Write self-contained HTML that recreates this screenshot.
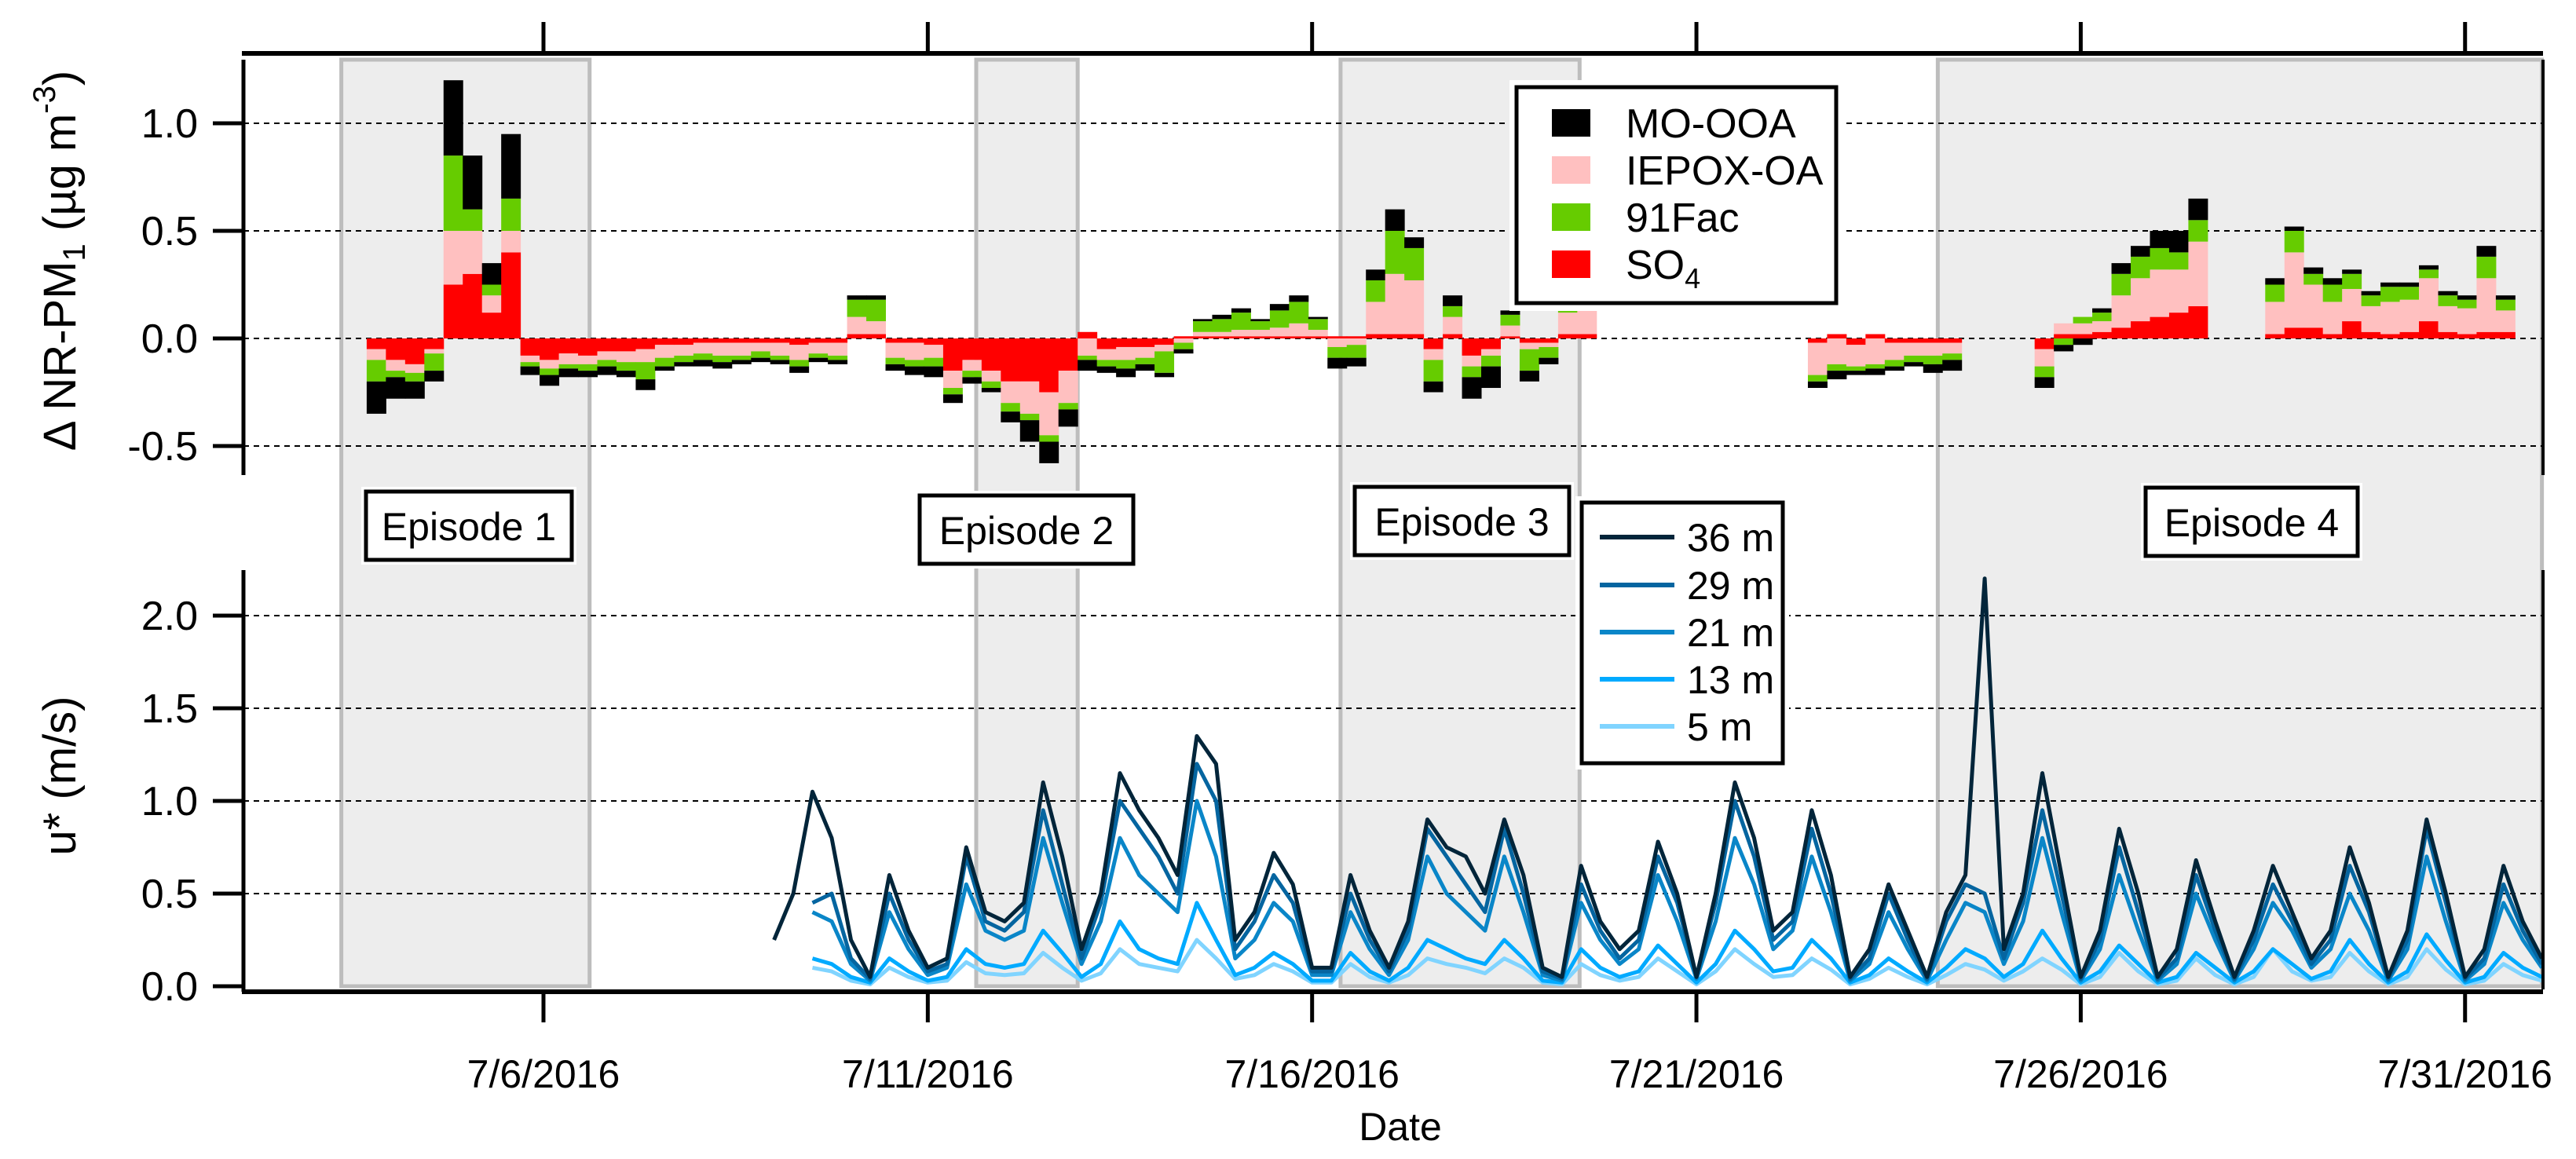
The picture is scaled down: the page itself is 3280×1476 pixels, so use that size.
<!DOCTYPE html>
<html><head><meta charset="utf-8"><style>
html,body{margin:0;padding:0;background:#fff;}
svg text{font-family:"Liberation Sans",Arial,sans-serif;fill:#000;}
</style></head><body>
<svg id="chart" xmlns="http://www.w3.org/2000/svg" width="3280" height="1471" viewBox="0 0 3280 1471">
<g id="shades"></g>
<g id="grid"></g>
<g id="bars"></g>
<g id="lines"></g>
<g id="axes"></g>
<g id="labels"></g>
</svg>
<script>
// ---- data ----
const xTickDays=[6,11,16,21,26,31];
const xTickLabels=["7/6/2016","7/11/2016","7/16/2016","7/21/2016","7/26/2016","7/31/2016"];
const topTicks=[1.0,0.5,0.0,-0.5];
const topTickLabels=["1.0","0.5","0.0","-0.5"];
const botTicks=[2.0,1.5,1.0,0.5,0.0];
const botTickLabels=["2.0","1.5","1.0","0.5","0.0"];
const episodeStart=[3.37,11.63,16.37,24.14];
const episodeEnd=[6.6,12.95,19.48,32.0];
const episodeNames=["Episode 1","Episode 2","Episode 3","Episode 4"];
const barSegStart=[3.70,22.45,25.4,28.4];
const barSegCount=[64,8,9,13];
const barStep=0.25;
const so4=[-0.05,-0.1,-0.12,-0.05,0.25,0.3,0.12,0.4,-0.08,-0.1,-0.07,-0.08,-0.06,-0.06,-0.05,-0.03,-0.03,-0.02,-0.02,-0.02,-0.02,-0.02,-0.03,-0.02,-0.02,0.02,0.02,-0.02,-0.02,-0.03,-0.15,-0.1,-0.15,-0.2,-0.2,-0.25,-0.15,0.03,-0.05,-0.04,-0.04,-0.03,0.01,0.01,0.01,0.01,0.01,0.01,0.01,0.01,0.01,0.01,0.02,0.02,0.02,-0.05,0.02,-0.08,-0.05,0.01,-0.02,-0.02,0.02,0.02,
 -0.02,0.02,-0.03,0.02,-0.02,-0.02,-0.02,-0.02,
 -0.05,0.02,0.02,0.03,0.05,0.08,0.1,0.12,0.15,
 0.02,0.05,0.05,0.02,0.08,0.03,0.02,0.03,0.08,0.03,0.02,0.03,0.03];
const iepox=[-0.05,-0.05,-0.04,-0.02,0.25,0.2,0.08,0.1,-0.03,-0.04,-0.05,-0.04,-0.04,-0.05,-0.06,-0.06,-0.05,-0.05,-0.06,-0.06,-0.04,-0.06,-0.07,-0.05,-0.06,0.08,0.06,-0.07,-0.08,-0.06,-0.08,-0.05,-0.05,-0.1,-0.15,-0.2,-0.15,-0.08,-0.05,-0.06,-0.05,-0.03,-0.02,0.02,0.02,0.03,0.03,0.04,0.06,0.03,-0.04,-0.03,0.15,0.28,0.25,-0.05,0.08,-0.05,-0.03,0.05,-0.03,-0.02,0.1,0.15,
 -0.15,-0.12,-0.1,-0.12,-0.08,-0.06,-0.06,-0.05,
 -0.08,0.05,0.05,0.05,0.15,0.2,0.22,0.2,0.3,
 0.15,0.35,0.2,0.15,0.15,0.12,0.15,0.15,0.2,0.12,0.12,0.25,0.1];
const fac91=[-0.1,-0.03,-0.04,-0.08,0.35,0.1,0.05,0.15,-0.02,-0.03,-0.02,-0.03,-0.03,-0.04,-0.08,-0.04,-0.03,-0.03,-0.03,-0.02,-0.03,-0.02,-0.03,-0.02,-0.02,0.08,0.1,-0.03,-0.03,-0.04,-0.03,-0.03,-0.03,-0.04,-0.03,-0.03,-0.03,-0.02,-0.03,-0.04,-0.03,-0.1,-0.03,0.05,0.06,0.08,0.04,0.08,0.1,0.05,-0.05,-0.06,0.1,0.2,0.15,-0.1,0.05,-0.05,-0.05,0.05,-0.1,-0.05,0.04,0.03,
 -0.03,-0.03,-0.02,-0.02,-0.03,-0.03,-0.04,-0.03,
 -0.05,-0.03,0.03,0.04,0.1,0.1,0.1,0.08,0.1,
 0.08,0.1,0.05,0.08,0.07,0.05,0.07,0.06,0.04,0.05,0.04,0.1,0.05];
const moooa=[-0.15,-0.1,-0.08,-0.05,0.35,0.25,0.1,0.3,-0.04,-0.05,-0.04,-0.03,-0.04,-0.03,-0.05,-0.02,-0.02,-0.03,-0.03,-0.02,-0.02,-0.02,-0.03,-0.02,-0.02,0.02,0.02,-0.03,-0.04,-0.05,-0.04,-0.03,-0.02,-0.05,-0.1,-0.1,-0.08,-0.05,-0.03,-0.04,-0.03,-0.02,-0.02,0.01,0.02,0.02,0.01,0.03,0.03,0.01,-0.05,-0.04,0.05,0.1,0.05,-0.05,0.05,-0.1,-0.1,0.02,-0.05,-0.03,0.02,0.01,
 -0.03,-0.04,-0.02,-0.03,-0.02,-0.02,-0.04,-0.05,
 -0.05,-0.03,-0.03,0.02,0.05,0.05,0.08,0.1,0.1,
 0.03,0.02,0.03,0.03,0.02,0.02,0.02,0.02,0.02,0.02,0.02,0.05,0.02];
const uStart=9.0, uStep=0.25;
const u36=[0.25,0.5,1.05,0.8, 0.25,0.05,0.6,0.3, 0.1,0.15,0.75,0.4, 0.35,0.45,1.1,0.7, 0.2,0.5,1.15,0.95, 0.8,0.6,1.35,1.2, 0.25,0.4,0.72,0.55, 0.1,0.1,0.6,0.3, 0.1,0.35,0.9,0.75, 0.7,0.5,0.9,0.6, 0.1,0.05,0.65,0.35, 0.2,0.3,0.78,0.5, 0.05,0.5,1.1,0.8, 0.3,0.4,0.95,0.6, 0.05,0.2,0.55,0.3, 0.05,0.4,0.6,2.2, 0.2,0.5,1.15,0.6, 0.05,0.3,0.85,0.5, 0.05,0.2,0.68,0.35, 0.05,0.3,0.65,0.4, 0.15,0.3,0.75,0.45, 0.05,0.3,0.9,0.5, 0.05,0.2,0.65,0.35, 0.15];
const u29=[null,null,0.45,0.5, 0.15,0.04,0.5,0.25, 0.08,0.12,0.7,0.35, 0.3,0.4,0.95,0.55, 0.15,0.45,1.0,0.85, 0.7,0.5,1.2,1.0, 0.2,0.35,0.6,0.45, 0.08,0.08,0.5,0.25, 0.08,0.3,0.85,0.7, 0.55,0.4,0.85,0.5, 0.08,0.04,0.55,0.3, 0.15,0.25,0.7,0.45, 0.05,0.45,1.0,0.7, 0.25,0.35,0.85,0.5, 0.04,0.15,0.5,0.25, 0.04,0.35,0.55,0.5, 0.15,0.45,0.95,0.5, 0.04,0.25,0.75,0.4, 0.04,0.15,0.6,0.3, 0.04,0.25,0.55,0.35, 0.12,0.25,0.65,0.4, 0.04,0.25,0.85,0.45, 0.04,0.15,0.55,0.3, 0.12];
const u21=[null,null,0.4,0.35, 0.12,0.03,0.4,0.2, 0.06,0.1,0.55,0.3, 0.25,0.3,0.8,0.45, 0.12,0.35,0.8,0.6, 0.5,0.4,1.0,0.7, 0.15,0.25,0.45,0.35, 0.06,0.06,0.4,0.2, 0.06,0.25,0.7,0.5, 0.4,0.3,0.7,0.4, 0.06,0.03,0.45,0.25, 0.12,0.2,0.6,0.35, 0.04,0.35,0.8,0.55, 0.2,0.3,0.7,0.4, 0.03,0.12,0.4,0.2, 0.03,0.25,0.45,0.4, 0.12,0.35,0.8,0.4, 0.03,0.2,0.6,0.3, 0.03,0.12,0.5,0.25, 0.03,0.2,0.45,0.3, 0.1,0.2,0.5,0.3, 0.03,0.2,0.7,0.35, 0.03,0.12,0.45,0.25, 0.1];
const u13=[null,null,0.15,0.12, 0.05,0.02,0.15,0.08, 0.03,0.05,0.2,0.12, 0.1,0.12,0.3,0.18, 0.05,0.12,0.35,0.2, 0.15,0.12,0.45,0.25, 0.06,0.1,0.18,0.12, 0.03,0.03,0.18,0.08, 0.03,0.1,0.25,0.2, 0.15,0.12,0.25,0.15, 0.03,0.02,0.2,0.1, 0.05,0.08,0.22,0.12, 0.02,0.12,0.3,0.2, 0.08,0.1,0.25,0.15, 0.02,0.06,0.15,0.08, 0.02,0.1,0.2,0.15, 0.05,0.12,0.3,0.15, 0.02,0.08,0.22,0.12, 0.02,0.05,0.18,0.1, 0.02,0.08,0.2,0.12, 0.04,0.08,0.25,0.12, 0.02,0.08,0.28,0.14, 0.02,0.05,0.18,0.1, 0.05];
const u5=[null,null,0.1,0.08, 0.03,0.01,0.1,0.05, 0.02,0.03,0.13,0.07, 0.06,0.07,0.18,0.1, 0.03,0.07,0.2,0.12, 0.1,0.08,0.25,0.15, 0.04,0.06,0.12,0.08, 0.02,0.02,0.12,0.05, 0.02,0.06,0.15,0.12, 0.1,0.07,0.15,0.1, 0.02,0.01,0.12,0.06, 0.03,0.05,0.15,0.08, 0.01,0.08,0.2,0.12, 0.05,0.06,0.15,0.09, 0.01,0.04,0.1,0.05, 0.01,0.06,0.12,0.09, 0.03,0.08,0.15,0.09, 0.01,0.05,0.18,0.08, 0.01,0.03,0.15,0.06, 0.01,0.05,0.2,0.08, 0.03,0.05,0.18,0.08, 0.01,0.05,0.2,0.09, 0.01,0.03,0.12,0.06, 0.03];

// ---- scales ----
const X0=310,X1=3238;
function xS(d){return 692+(d-6)*97.87;}
function yT(v){return 431-v*274;}
function yB(v){return 1256-v*236;}
const NS="http://www.w3.org/2000/svg";
function mk(tag,attrs,parent){const e=document.createElementNS(NS,tag);for(const k in attrs)e.setAttribute(k,attrs[k]);parent.appendChild(e);return e;}
const gS=document.getElementById('shades'),gG=document.getElementById('grid'),gBar=document.getElementById('bars'),gL=document.getElementById('lines'),gA=document.getElementById('axes'),gLab=document.getElementById('labels');

for(let i=0;i<episodeStart.length;i++){
  const x1=xS(episodeStart[i]),x2=Math.min(xS(episodeEnd[i]),X1);
  const r=mk('rect',{x:x1,y:76,width:x2-x1,height:1256-76,fill:'#ededed',stroke:'#bdbdbd','stroke-width':5},gS);
  
  
}
topTicks.forEach(v=>{const l=mk('line',{x1:X0,x2:X1,y1:yT(v),y2:yT(v),stroke:'#000','stroke-width':2,'stroke-dasharray':'7,6'},gG);
  
  });
botTicks.forEach(v=>{if(v===0)return;const l=mk('line',{x1:X0,x2:X1,y1:yB(v),y2:yB(v),stroke:'#000','stroke-width':2,'stroke-dasharray':'7,6'},gG);
  
  });

const comps=[so4,iepox,fac91,moooa];
const compColors=['#ff0000','#ffc0c0','#66cc00','#000000'];
const compNames=['so4','iepox-oa','91fac','mo-ooa'];
const barTimes=[];
for(let s=0;s<barSegStart.length;s++)for(let k=0;k<barSegCount[s];k++)barTimes.push(barSegStart[s]+k*barStep);
for(let i=0;i<barTimes.length;i++){
  let pos=0,neg=0;
  const xa=xS(barTimes[i]),xb=xS(barTimes[i]+barStep);
  for(let c=0;c<4;c++){
    const v=comps[c][i];if(v==null)continue;
    let a,b;
    if(v>=0){a=pos;b=pos+v;pos=b;}else{a=neg;b=neg+v;neg=b;}
    const y1=Math.min(yT(a),yT(b)),h=Math.abs(yT(a)-yT(b));
    const r=mk('rect',{x:xa,y:y1,width:xb-xa+0.5,height:h,fill:compColors[c]},gBar);
    
    
  }
}
const useries=[u5,u13,u21,u29,u36];
const ucolors=['#80d4ff','#00aaff','#0a86c8','#0565a0','#02253a'];
const unames=['5m','13m','21m','29m','36m'];
useries.forEach((s,j)=>{
  let d='';let pen=false;
  s.forEach((v,i)=>{if(v==null){pen=false;return;}const x=xS(uStart+i*uStep),y=yB(v);d+=(pen?'L':'M')+x.toFixed(1)+','+y.toFixed(1);pen=true;});
  const p=mk('path',{d:d,fill:'none',stroke:ucolors[j],'stroke-width':5,'stroke-linejoin':'round'},gL);
  
  
});

function line(x1,y1,x2,y2,w,name){const l=mk('line',{x1:x1,y1:y1,x2:x2,y2:y2,stroke:'#000','stroke-width':w},gA);
  
  }
line(X0,76,X0,605,5,'top-y-axis');
line(X0-2,68,X1,68,6,'top-x-axis');
line(X1,76,X1,605,4,'top-right-axis');
line(X0,726,X0,1263,5,'bottom-y-axis');
line(X0-2,1263,X1,1263,6,'bottom-x-axis');
line(X1,726,X1,1260,4,'bottom-right-axis');
xTickDays.forEach((d,i)=>{
  line(xS(d),28,xS(d),68,5,'top-x-tick');
  line(xS(d),1263,xS(d),1302,5,'bottom-x-tick');
  const t=mk('text',{x:xS(d),y:1385,'font-size':50,'text-anchor':'middle'},gLab);t.textContent=xTickLabels[i];
  
  
});
topTicks.forEach((v,i)=>{line(271,yT(v),X0,yT(v),5,'top-y-tick');
  const t=mk('text',{x:252,y:yT(v)+18,'font-size':52,'text-anchor':'end'},gLab);t.textContent=topTickLabels[i];
  
  });
botTicks.forEach((v,i)=>{line(271,yB(v),X0,yB(v),5,'bottom-y-tick');
  const t=mk('text',{x:252,y:yB(v)+18,'font-size':52,'text-anchor':'end'},gLab);t.textContent=botTickLabels[i];
  
  });

const epBoxX=[466,1171,1725,2732],epBoxY=[626,631,620,621],epBoxW=[262,272,273,270];
episodeNames.forEach((n,i)=>{
  mk('rect',{x:epBoxX[i]-6,y:epBoxY[i]-6,width:epBoxW[i]+12,height:99,fill:'#fff'},gLab);
  const r=mk('rect',{x:epBoxX[i],y:epBoxY[i],width:epBoxW[i],height:87,fill:'#fff',stroke:'#000','stroke-width':5},gLab);
  
  
  const t=mk('text',{x:epBoxX[i]+epBoxW[i]/2,y:epBoxY[i]+62,'font-size':50,'text-anchor':'middle'},gLab);t.textContent=n;
  
  
});
</script>
<svg style="position:absolute;left:0;top:0" width="3280" height="1471">
  <g>
    <rect x="1922" y="102" width="426" height="294" fill="#fff"/>
    <rect x="1931" y="111" width="407" height="275" fill="#fff" stroke="#000" stroke-width="5"/>
    <rect x="1976" y="139" width="49" height="35" fill="#000"/>
    <rect x="1976" y="199" width="49" height="35" fill="#ffc0c0"/>
    <rect x="1976" y="259" width="49" height="35" fill="#66cc00"/>
    <rect x="1976" y="319" width="49" height="35" fill="#ff0000"/>
    <text x="2070" y="175" font-size="52">MO-OOA</text>
    <text x="2070" y="235" font-size="52">IEPOX-OA</text>
    <text x="2070" y="295" font-size="52">91Fac</text>
    <text x="2070" y="355" font-size="52">SO<tspan font-size="36" dy="12">4</tspan></text>
  </g>
  <g>
    <rect x="2006" y="632" width="272" height="348" fill="#fff"/>
    <rect x="2014" y="640" width="256" height="332" fill="#fff" stroke="#000" stroke-width="5"/>
    <line x1="2037" y1="684" x2="2132" y2="684" stroke="#02253a" stroke-width="6"/>
    <line x1="2037" y1="745" x2="2132" y2="745" stroke="#0565a0" stroke-width="6"/>
    <line x1="2037" y1="805" x2="2132" y2="805" stroke="#0a86c8" stroke-width="6"/>
    <line x1="2037" y1="865" x2="2132" y2="865" stroke="#00aaff" stroke-width="6"/>
    <line x1="2037" y1="925" x2="2132" y2="925" stroke="#80d4ff" stroke-width="6"/>
    <text x="2148" y="702" font-size="50">36 m</text>
    <text x="2148" y="763" font-size="50">29 m</text>
    <text x="2148" y="823" font-size="50">21 m</text>
    <text x="2148" y="883" font-size="50">13 m</text>
    <text x="2148" y="943" font-size="50">5 m</text>
  </g>
  <text transform="translate(96,332) rotate(-90)" font-size="58" text-anchor="middle">Δ NR-PM<tspan font-size="40" dy="12">1</tspan><tspan dy="-12"> (µg m</tspan><tspan font-size="40" dy="-26">-3</tspan><tspan dy="26">)</tspan></text>
  <text transform="translate(96,988) rotate(-90)" font-size="58" text-anchor="middle">u* (m/s)</text>
  <text x="1783" y="1452" font-size="50" text-anchor="middle">Date</text>
</svg>
</body></html>
